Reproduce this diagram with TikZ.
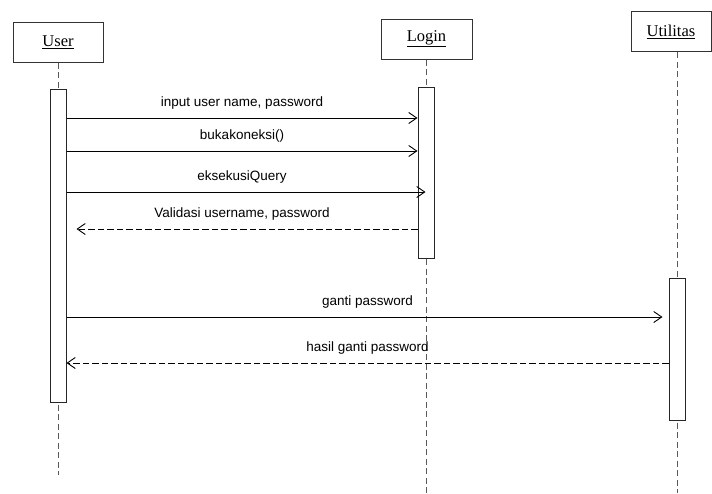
\documentclass[tikz,border=0pt]{standalone}
\usepackage{fontspec}
\setmainfont{Liberation Serif}
\setsansfont{Liberation Sans}
\usetikzlibrary{arrows.meta,positioning}

\tikzset{
  object/.style={draw=black!80, line width=1pt, fill=white, minimum width=90pt,
    minimum height=40pt, font=\fontsize{16.5}{18}\selectfont},
  activation/.style={draw=black!85, line width=1pt, fill=white, minimum width=16pt, inner sep=0pt},
  lifeline/.style={draw=black!65, line width=0.9pt, dash pattern=on 6pt off 3.5pt},
  call/.style={line width=0.9pt, -{Straight Barb[length=8pt,width=11pt]}},
  reply/.style={call, dash pattern=on 6.5pt off 3pt},
  msg/.style={midway, above=5pt, font=\sffamily\fontsize{13.5}{15}\selectfont,
    text height=10pt, text depth=3pt}
}

\begin{document}
\begin{tikzpicture}[x=1pt,y=-1pt]
  \useasboundingbox (0,0) rectangle (712,493);

  % objects
  \node[object] (user) at (58,42) {\underline{User}};
  \node[object, minimum width=91pt] (login) at (426.5,39) {\underline{Login}};
  \node[object, minimum width=80pt] (util) at (671,31.5) {\underline{Utilitas}};

  % lifelines
  \coordinate (userEnd) at (58,475);
  \coordinate (loginEnd) at (426,493);
  \coordinate (utilEnd) at (677,493);
  \draw[lifeline] (user) -- (userEnd);
  \draw[lifeline] (login.south -| loginEnd) -- (loginEnd);
  \draw[lifeline] (util.south -| utilEnd) -- (utilEnd);

  % activations
  \node[activation, minimum height=313pt] (userBar) at (58,245.5) {};
  \node[activation, minimum height=171pt] (loginBar) at (426,172.5) {};
  \node[activation, minimum height=142pt] (utilBar) at (677,349) {};

  % messages
  \draw[call] (userBar.east |- 0,118) -- (loginBar.west |- 0,118)
    node[msg] {input user name, password};
  \draw[call] (userBar.east |- 0,151) -- (loginBar.west |- 0,151)
    node[msg] {bukakoneksi()};
  \draw[call, shorten >=-8pt] (userBar.east |- 0,192) -- (loginBar.west |- 0,192)
    node[msg] {eksekusiQuery};
  \draw[reply, shorten >=10pt] (loginBar.west |- 0,229) -- (userBar.east |- 0,229)
    node[msg] {Validasi username, password};
  \draw[call, shorten >=6pt] (userBar.east |- 0,317) -- (utilBar.west |- 0,317)
    node[msg] {ganti password};
  \draw[reply] (utilBar.west |- 0,363) -- (userBar.east |- 0,363)
    node[msg] {hasil ganti password};
\end{tikzpicture}
\end{document}
